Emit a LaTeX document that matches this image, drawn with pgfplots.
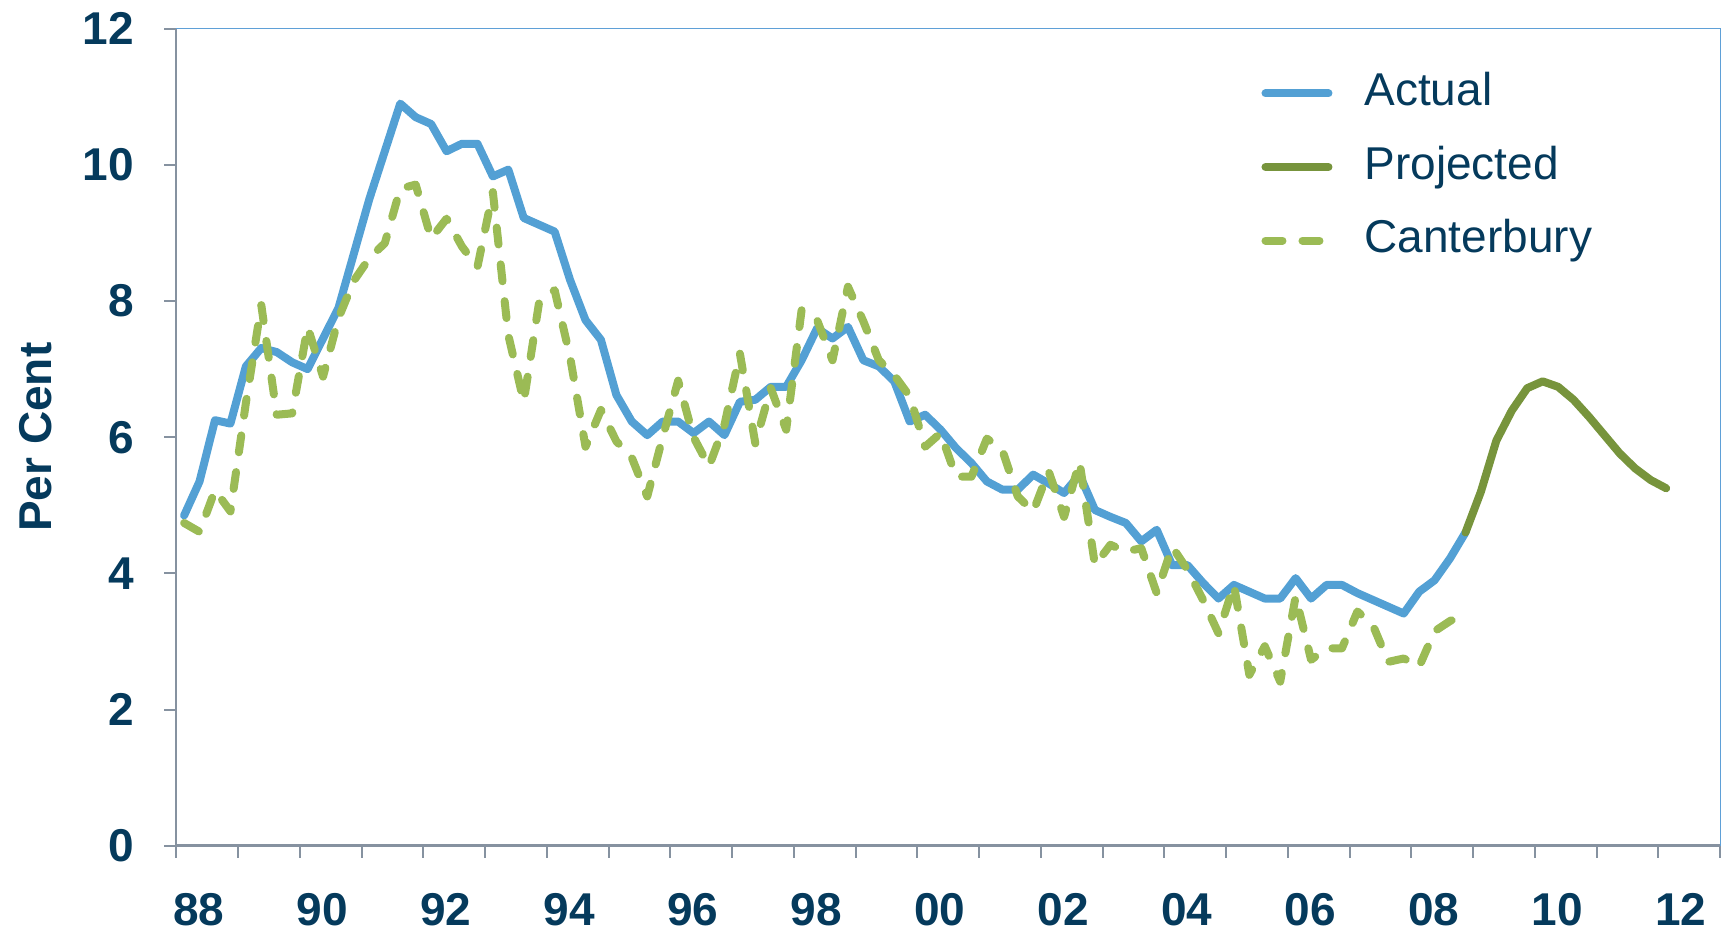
\documentclass[border=0pt]{standalone}
\usepackage{pgfplots}
\pgfplotsset{compat=1.18}
\usepackage{pgfplotstable}
\usepackage{fontspec}
\setmainfont{Liberation Sans}
\definecolor{actual}{RGB}{83,160,212}
\definecolor{proj}{RGB}{119,148,60}
\definecolor{cant}{RGB}{155,187,85}
\definecolor{navy}{RGB}{5,58,92}
\definecolor{axgray}{RGB}{134,146,160}
\definecolor{topblue}{RGB}{95,160,215}

\pgfplotstableread{
k v
0 4.85
1 5.35
2 6.25
3 6.2
4 7.04
5 7.31
6 7.25
7 7.1
8 7.0
9 7.45
10 7.9
11 8.7
12 9.5
13 10.2
14 10.9
15 10.7
16 10.6
17 10.2
18 10.31
19 10.31
20 9.83
21 9.93
22 9.22
23 9.12
24 9.02
25 8.31
26 7.72
27 7.43
28 6.62
29 6.23
30 6.03
31 6.23
32 6.23
33 6.06
34 6.23
35 6.03
36 6.52
37 6.55
38 6.74
39 6.74
40 7.13
41 7.6
42 7.45
43 7.62
44 7.13
45 7.04
46 6.82
47 6.23
48 6.33
49 6.11
50 5.84
51 5.62
52 5.35
53 5.23
54 5.23
55 5.45
56 5.32
57 5.18
58 5.45
59 4.93
60 4.83
61 4.74
62 4.47
63 4.64
64 4.12
65 4.12
66 3.86
67 3.63
68 3.83
69 3.73
70 3.63
71 3.63
72 3.93
73 3.63
74 3.83
75 3.83
76 3.71
77 3.61
78 3.51
79 3.41
80 3.73
81 3.9
82 4.22
83 4.6
}\actualdata

\pgfplotstableread{
k v
83 4.6
84 5.2
85 5.95
86 6.39
87 6.72
88 6.82
89 6.74
90 6.55
91 6.30
92 6.03
93 5.76
94 5.54
95 5.37
96 5.25
}\projdata

\pgfplotstableread{
k v
0 4.74
1 4.61
2 5.22
3 4.91
4 6.5
5 7.94
6 6.33
7 6.35
8 7.62
9 6.89
10 7.75
11 8.3
12 8.63
13 8.85
14 9.65
15 9.71
16 8.92
17 9.21
18 8.8
19 8.5
20 9.6
21 7.5
22 6.52
23 7.99
24 8.16
25 7.18
26 5.86
27 6.4
28 5.94
29 5.7
30 5.13
31 6.0
32 6.83
33 6.0
34 5.57
35 6.18
36 7.23
37 5.91
38 6.72
39 6.11
40 7.87
41 7.72
42 7.13
43 8.21
44 7.7
45 7.13
46 6.91
47 6.6
48 5.86
49 6.06
50 5.42
51 5.42
52 5.98
53 5.81
54 5.13
55 4.91
56 5.5
57 4.83
58 5.64
59 4.12
60 4.42
61 4.32
62 4.37
63 3.71
64 4.39
65 4.05
66 3.61
67 3.12
68 3.83
69 2.51
70 2.93
71 2.41
72 3.66
73 2.73
74 2.9
75 2.9
76 3.44
77 3.24
78 2.7
79 2.75
80 2.63
81 3.15
82 3.3
83 3.4
}\cantdata

\begin{document}
\begin{tikzpicture}
\useasboundingbox (-88.2bp,-44.1bp) rectangle (776.3bp,422.85bp);
\begin{axis}[
  scale only axis,
  width=771.9bp, height=408.5bp,
  xmin=1988, xmax=2013, ymin=0, ymax=12,
  axis line style={draw=none},
  xtick={1988,1989,...,2013}, xticklabels={},
  ytick={0,2,...,12}, yticklabels={0,2,4,6,8,10,12},
  extra x ticks={1988.36,1990.36,1992.36,1994.36,1996.36,1998.36,2000.36,2002.36,2004.36,2006.36,2008.36,2010.36,2012.36},
  extra x tick labels={88,90,92,94,96,98,00,02,04,06,08,10,12},
  extra x tick style={major tick length=0pt, xticklabel style={inner sep=0pt, anchor=north, yshift=-23.5bp}},
  tick align=outside,
  major tick length=6bp,
  tick style={axgray, line width=1bp},
  xtick pos=bottom, ytick pos=left,
  /pgf/number format/assume math mode=true,
  ticklabel style={font=\fontsize{23bp}{27bp}\selectfont\bfseries, text=navy},
  yticklabel style={inner sep=0pt, anchor=east, xshift=-15bp},
  ylabel={Per Cent},
  ylabel style={font=\fontsize{23bp}{27bp}\selectfont\bfseries, text=navy, at={(axis description cs:-0.0909,0.5)}, anchor=center},
  legend style={draw=none, fill=none, at={(0.7026,0.9482)}, anchor=north west,
    font=\fontsize{23bp}{27bp}\selectfont, text=navy, inner sep=0pt,
    row sep=14.8bp,
    nodes={inner sep=0pt, text height=17bp, text depth=5bp}},
  legend cell align=left,
  legend image code/.code={\draw[#1, line cap=round] (0bp,0bp) -- (31.5bp,0bp);},
  /tikz/every odd column/.append style={column sep=16bp},
  clip=false,
]
\addplot[actual, line width=4bp, line join=round, line cap=round] table[x expr=\thisrow{k}*0.25+1988.125, y=v] {\actualdata};
\addlegendentry{Actual}
\addplot[proj, line width=4bp, line join=round, line cap=round] table[x expr=\thisrow{k}*0.25+1988.125, y=v] {\projdata};
\addlegendentry{Projected}
\addplot[cant, line width=4bp, line join=round, line cap=round, dash pattern=on 8.5bp off 10bp] table[x expr=\thisrow{k}*0.25+1988.125, y=v] {\cantdata};
\addlegendentry{Canterbury}
\draw[topblue, line width=0.6bp] (rel axis cs:0,1) -- (rel axis cs:1,1) -- (rel axis cs:1,0);
\draw[axgray, line width=1bp] (rel axis cs:0,0) -- (rel axis cs:0,1);
\draw[axgray, line width=1.3bp] (rel axis cs:0,0) -- (rel axis cs:1,0);
\end{axis}
\end{tikzpicture}
\end{document}
